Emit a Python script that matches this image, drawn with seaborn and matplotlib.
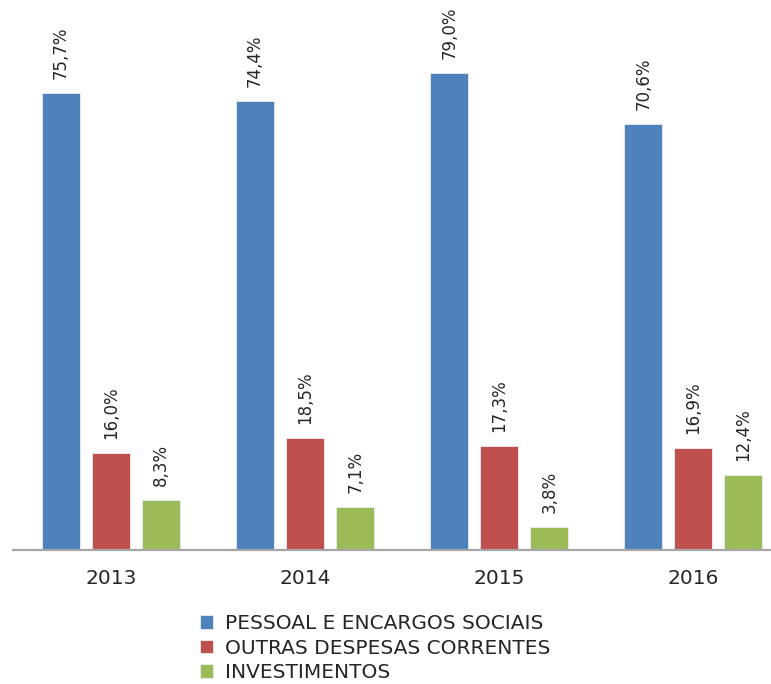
import pandas as pd
import matplotlib
matplotlib.use("Agg")
import matplotlib.pyplot as plt
import seaborn as sns

anos = ["2013", "2014", "2015", "2016"]
pessoal = [75.7, 74.4, 79.0, 70.6]
outras = [16.0, 18.5, 17.3, 16.9]
investimentos = [8.3, 7.1, 3.8, 12.4]
series = ["PESSOAL E ENCARGOS SOCIAIS", "OUTRAS DESPESAS CORRENTES", "INVESTIMENTOS"]
cores = ["#4F81BD", "#C0504D", "#9BBB59"]

df = pd.DataFrame({
    "ano": anos * 3,
    "valor": pessoal + outras + investimentos,
    "grupo": [series[0]] * 4 + [series[1]] * 4 + [series[2]] * 4,
})

sns.set_style("white")
plt.rcParams["font.family"] = ["DejaVu Sans"]

fig = plt.figure(figsize=(7.71, 6.84), dpi=100)
ax = fig.add_axes([13 / 771, 1 - 550 / 684, 1 - 13 / 771, 540 / 684])

sns.barplot(data=df, x="ano", y="valor", hue="grupo", hue_order=series,
            palette=cores, saturation=1, width=0.773, gap=0.24,
            edgecolor="#e8eef6", linewidth=0.6, ax=ax)

for cont in ax.containers:
    rot = [f"{b.get_height():.1f}%".replace(".", ",") for b in cont]
    ax.bar_label(cont, labels=rot, rotation=90, padding=10, fontsize=12,
                 color="#262626")

ax.set_xlim(-0.505, 3.40)
ax.set_ylim(0, 89.4)
ax.set_xlabel("")
ax.set_ylabel("")
ax.set_yticks([])
for s in ["left", "right", "top"]:
    ax.spines[s].set_visible(False)
ax.spines["bottom"].set_color("#a6a6a6")
ax.spines["bottom"].set_linewidth(1.6)
ax.tick_params(axis="x", length=0, pad=14, labelsize=14.5, labelcolor="#262626")

handles, labels = ax.get_legend_handles_labels()
ax.get_legend().remove()
fig.legend(handles, labels, loc="center left",
           bbox_to_anchor=(200 / 771, 1 - 648 / 684), frameon=False,
           fontsize=14.5, borderpad=0, borderaxespad=0, labelspacing=0.27,
           handlelength=0.65, handleheight=0.65, handletextpad=0.6,
           labelcolor="#262626")

fig.savefig("out.png", dpi=100)
